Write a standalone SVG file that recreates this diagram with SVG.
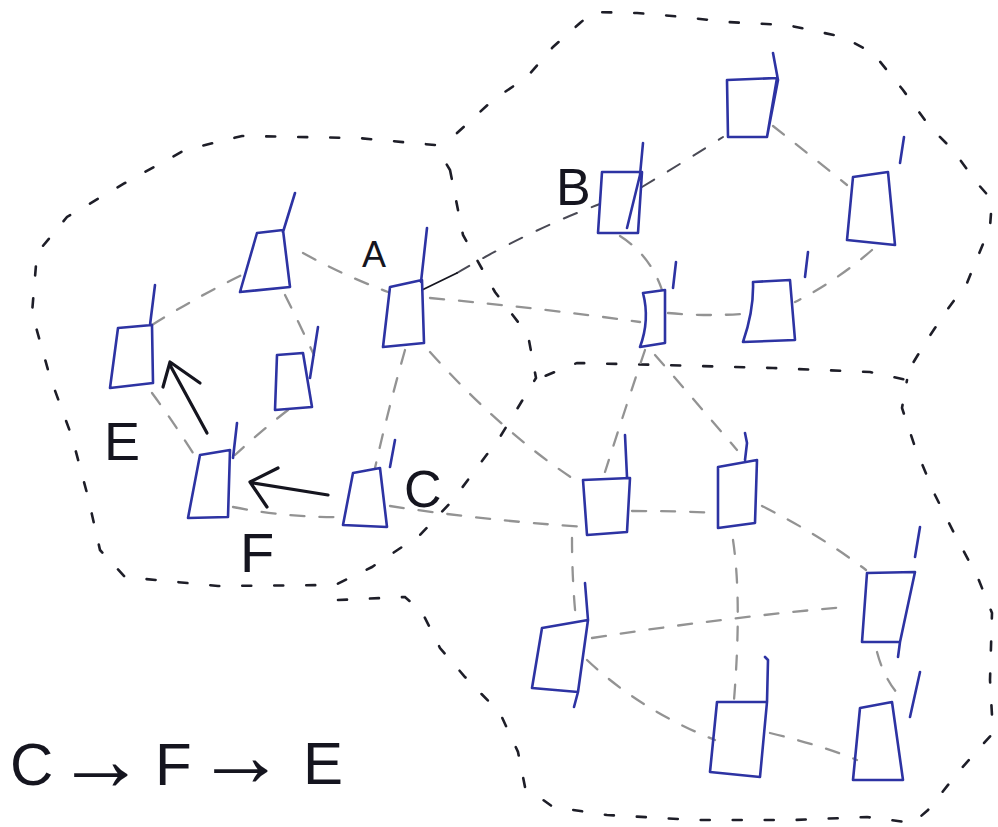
<svg xmlns="http://www.w3.org/2000/svg" width="998" height="827" viewBox="0 0 998 827">
<defs>
<style>
.bg{fill:#ffffff}
.node{fill:none;stroke:#2d33a3;stroke-width:2.6;stroke-linejoin:round;stroke-linecap:round}
.outline{fill:none;stroke:#1e1e28;stroke-width:2.6;stroke-dasharray:9 23;stroke-linecap:round}
.conn{fill:none;stroke:#939393;stroke-width:2.3;stroke-dasharray:14 15;stroke-linecap:round}
.conn-dark{fill:none;stroke:#4a4a55;stroke-width:2;stroke-dasharray:14 16;stroke-linecap:round}
.arrow{fill:none;stroke:#15151f;stroke-width:3.2;stroke-linecap:round;stroke-linejoin:round}
.lbl{font-family:"Liberation Sans","DejaVu Sans",sans-serif;fill:#15151f}
</style>
</defs>
<rect class="bg" x="0" y="0" width="998" height="827"/>

<g id="outlines">
<path class="outline" d="M450,170 L463,235 L495,292 L528,335 L536,378 L500,437 L473,473 L453,500 L420,535 L372,567 L335,585 L218,586 L125,577 L100,550 L88,497 L72,437 L50,377 L32,313 L37,253 L67,217 L125,183 L185,150 L242,136 L358,138 L435,145 Z"/>
<path class="outline" d="M457,133 L493,100 L527,77 L553,47 L580,23 L593,12 L637,13 L683,17 L727,22 L787,25 L843,37 L873,53 L903,90 L930,127 L953,150 L977,183 L992,200 L990,227 L967,283 L947,310 L927,340 L913,363 L907,380 L870,372 L773,368 L663,365 L577,363 L535,380"/>
<path class="outline" d="M338,600 L405,597 L422,612 L440,648 L465,677 L500,713 L518,752 L525,787 L553,807 L607,815 L697,820 L793,820 L867,817 L913,823 L928,810 L960,770 L993,733 L990,680 L992,613 L978,578 L955,535 L935,495 L915,447 L902,408 L907,380"/>
</g>

<g id="connectors">
<path class="conn" d="M152,325 Q200,295 248,272"/>
<path class="conn" d="M303,253 Q345,276 388,292"/>
<path class="conn" d="M285,295 Q300,325 314,355"/>
<path class="conn" d="M430,298 Q540,308 640,322"/>
<path class="conn" d="M668,313 Q710,317 753,313"/>
<path class="conn" d="M620,236 Q650,255 662,290"/>
<path class="conn" d="M773,126 Q810,155 847,185"/>
<path class="conn" d="M872,250 Q835,282 795,302"/>
<path class="conn" d="M645,350 Q628,400 605,472"/>
<path class="conn" d="M655,355 Q690,395 737,450"/>
<path class="conn" d="M430,352 Q500,430 572,478"/>
<path class="conn" d="M405,350 Q388,410 375,468"/>
<path class="conn" d="M288,410 Q262,430 235,455"/>
<path class="conn" d="M152,393 Q172,420 193,453"/>
<path class="conn" d="M233,507 Q290,518 342,517"/>
<path class="conn" d="M390,506 Q480,520 585,527"/>
<path class="conn" d="M632,511 Q680,511 716,513"/>
<path class="conn" d="M762,506 Q820,535 866,570"/>
<path class="conn" d="M572,538 Q572,580 576,620"/>
<path class="conn" d="M733,540 Q742,600 734,700"/>
<path class="conn" d="M592,638 Q720,618 845,607"/>
<path class="conn" d="M587,660 Q640,710 715,740"/>
<path class="conn" d="M770,733 Q820,745 857,760"/>
<path class="conn" d="M877,652 Q885,682 902,698"/>
<path class="conn-dark" d="M457,273 Q530,230 600,204"/>
<path class="conn-dark" d="M642,187 Q690,158 723,137"/>
<path d="M422,290 L457,273" fill="none" stroke="#15151f" stroke-width="1.8" stroke-linecap="round"/>
</g>

<g id="n1"><path class="node" d="M727,80 L777,78 L767,137 L728,137 Z M767,137 L778,80 L773,53"/></g>
<g id="n2"><path class="node" d="M602,172 L642,172 L638,233 L598,233 Z M627,228 L640,175 L643,143"/></g>
<g id="n3"><path class="node" d="M853,177 L888,172 L895,245 L847,240 Z M900,163 L904,137"/></g>
<g id="n4"><path class="node" d="M643,293 L665,290 L665,343 L640,347 Q650,320 643,293 Z M673,288 L676,262"/></g>
<g id="n5"><path class="node" d="M753,282 L790,280 L795,340 L743,342 Q754,310 753,282 Z M805,277 L808,252"/></g>
<g id="n6"><path class="node" d="M390,287 L422,280 L424,343 L383,347 Z M421,282 L427,228"/></g>
<g id="n7"><path class="node" d="M257,233 L283,230 L290,287 L240,292 Z M283,232 L295,193"/></g>
<g id="n8"><path class="node" d="M118,328 L152,325 L153,383 L110,388 Z M150,325 L155,285"/></g>
<g id="n9"><path class="node" d="M277,355 L303,353 L312,407 L275,410 Z M310,378 L318,327"/></g>
<g id="n10"><path class="node" d="M200,455 L230,450 L228,517 L188,518 Z M233,458 L237,423"/></g>
<g id="n11"><path class="node" d="M353,473 L380,468 L387,527 L343,525 Z M390,467 L395,440"/></g>
<g id="n12"><path class="node" d="M583,480 L630,478 L627,532 L587,535 Z M627,477 L625,435"/></g>
<g id="n13"><path class="node" d="M718,467 L757,460 L755,523 L718,528 Z M745,460 L747,443 L745,433"/></g>
<g id="n14"><path class="node" d="M867,573 L915,572 L900,642 L862,642 Z M900,642 L898,657 M915,557 L920,527"/></g>
<g id="n15"><path class="node" d="M542,628 L588,620 L578,692 L532,688 Z M578,692 L574,707 M588,620 L585,583"/></g>
<g id="n16"><path class="node" d="M717,702 L767,702 L760,777 L710,772 Z M767,702 L768,660 L765,657"/></g>
<g id="n17"><path class="node" d="M860,708 L892,702 L903,780 L853,780 Z M910,717 L920,672"/></g>

<g id="arrows">
<path class="arrow" d="M328,495 L253,483 M278,468 L250,482 L267,507"/>
<path class="arrow" d="M207,433 L170,365 M163,387 L170,362 L200,383"/>
</g>

<g id="labels">
<text class="lbl" x="362" y="267" font-size="36">A</text>
<text class="lbl" x="556" y="205" font-size="52">B</text>
<text class="lbl" x="104" y="460" font-size="54">E</text>
<text class="lbl" x="240" y="572" font-size="56">F</text>
<text class="lbl" x="404" y="507" font-size="52">C</text>
<text class="lbl" font-size="60" y="785"><tspan x="10">C</tspan><tspan x="56" font-size="90" y="790">→</tspan><tspan x="155" y="785">F</tspan><tspan x="196" font-size="90" y="786">→</tspan><tspan x="303" y="784">E</tspan></text>
</g>
</svg>
